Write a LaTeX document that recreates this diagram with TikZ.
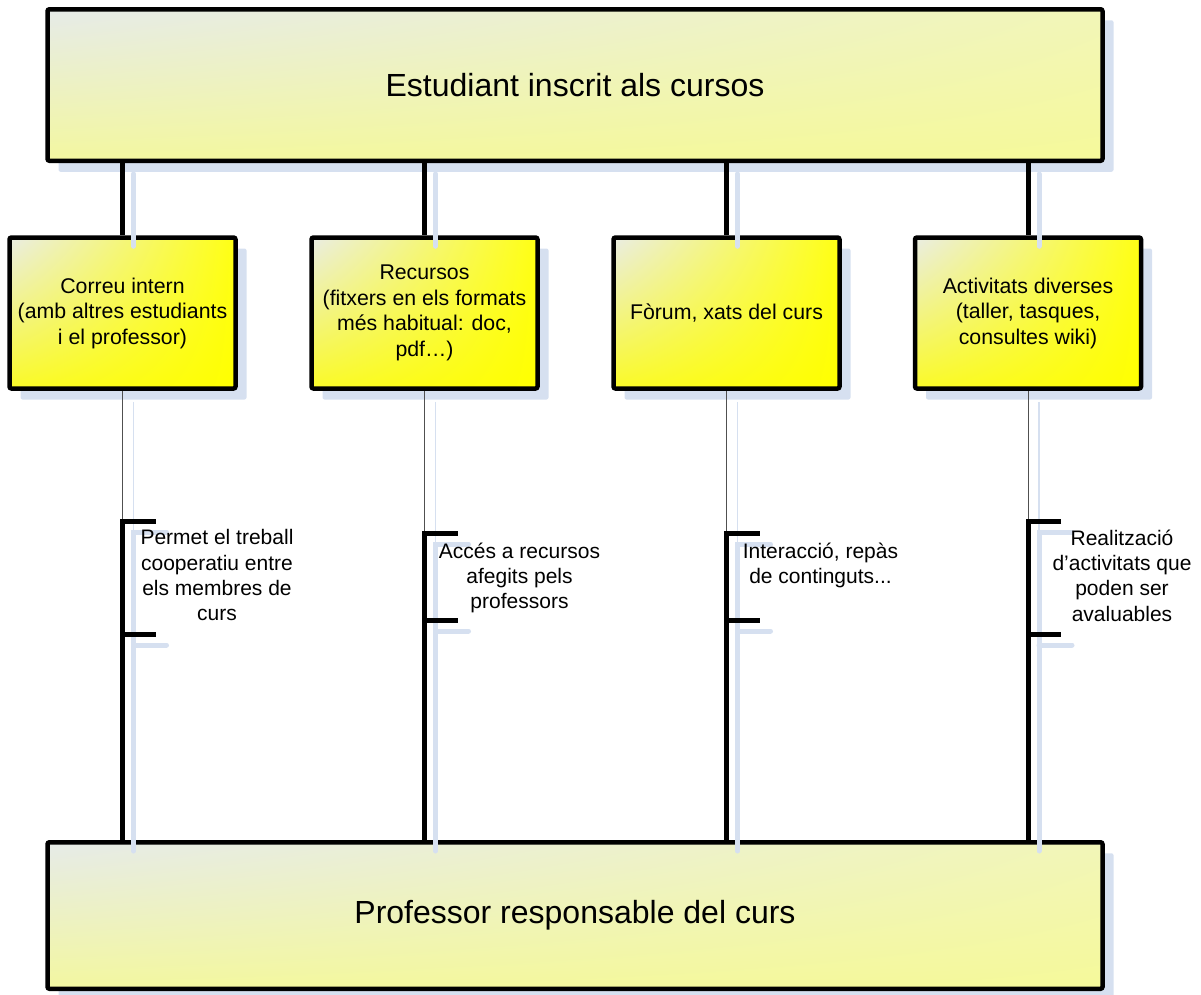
\documentclass[tikz,border=0pt]{standalone}
\usepackage{fontspec}
\setmainfont{Liberation Sans}
\usetikzlibrary{shadows,shadings}
\definecolor{shblue}{RGB}{214,224,240}
\definecolor{paleUL}{RGB}{230,235,232}
\definecolor{paleUR}{RGB}{242,246,184}
\definecolor{paleLL}{RGB}{243,247,160}
\definecolor{paleLR}{RGB}{245,249,154}
\definecolor{yelUL}{RGB}{234,237,228}
\definecolor{yelUR}{RGB}{255,255,20}
\definecolor{yelLL}{RGB}{250,250,40}
\definecolor{yelLR}{RGB}{255,255,0}
\definecolor{thingray}{RGB}{80,80,80}
\newcommand\drawlinks[2]{%
  \foreach \i in {1,...,4} {
    \draw[#1] (top.south -| b\i.north) -- (b\i.north);
    \draw[#2] (b\i.south) -- (kt\i);
    \draw[#1] (kt\i) ++(33,0) -- (kt\i) -- (bot.north -| kt\i);
    \draw[#1] (kb\i) -- ++(33,0);
  }}
\begin{document}
\begin{tikzpicture}[x=1pt,y=-1pt,
  shad/.style={drop shadow={shadow xshift=11pt, shadow yshift=-11pt, fill=shblue, opacity=1}},
  bigbox/.style={draw=black, line width=4.5pt, rounded corners=2pt,
    minimum width=1055pt, inner sep=0pt, font=\fontsize{32}{38}\selectfont,
    upper left=paleUL, upper right=paleUR, lower left=paleLL, lower right=paleLR, shad},
  midbox/.style={draw=black, line width=4.5pt, rounded corners=2pt,
    minimum width=226pt, minimum height=151pt, inner sep=0pt, align=center,
    font=\fontsize{21.3}{25.5}\selectfont,
    upper left=yelUL, upper right=yelUR, lower left=yelLL, lower right=yelLR, shad},
  lab/.style={align=center, anchor=north, inner sep=0pt, font=\fontsize{21}{25.3}\selectfont},
  thickline/.style={draw=black, line width=5pt},
  thinline/.style={draw=thingray, line width=1pt},
  shthick/.style={draw=shblue, line width=5pt, line cap=round},
  shthin/.style={draw=shblue, line width=1.2pt}]
\useasboundingbox (0,0) rectangle (1201,994);

\node[bigbox, minimum height=151.5pt] (top) at (575,85) {Estudiant inscrit als cursos};
\node[bigbox, minimum height=146.5pt] (bot) at (575,915.5) {Professor responsable del curs};

\node[midbox] (b1) at (122.5,313) {Correu intern\\(amb altres estudiants\\i el professor)};
\node[midbox] (b2) at (424.5,313) {Recursos\\(fitxers en els formats\\més habitual: doc,\\pdf…)};
\node[midbox] (b3) at (726.5,313) {Fòrum, xats del curs};
\node[midbox] (b4) at (1028,313) {Activitats diverses\\(taller, tasques,\\consultes wiki)};

\coordinate (kt1) at (122.5,521); \coordinate (kb1) at (122.5,634);
\coordinate (kt2) at (424.5,533); \coordinate (kb2) at (424.5,620);
\coordinate (kt3) at (726.5,533); \coordinate (kb3) at (726.5,620);
\coordinate (kt4) at (1028,521);  \coordinate (kb4) at (1028,634);

\begin{scope}[transform canvas={xshift=11pt, yshift=-11pt}]
  \drawlinks{shthick}{shthin}
\end{scope}
\drawlinks{thickline}{thinline}

\node[lab] (l1) at (217,529.5) {Permet el treball\\cooperatiu entre\\els membres de\\curs};
\node[lab] (l2) at (519.5,542.5) {Accés a recursos\\afegits pels\\professors};
\node[lab] (l3) at (820.5,542.5) {Interacció, repàs\\de continguts...};
\node[lab] (l4) at (1122,529.5) {Realització\\d’activitats que\\poden ser\\avaluables};
\end{tikzpicture}
\end{document}
